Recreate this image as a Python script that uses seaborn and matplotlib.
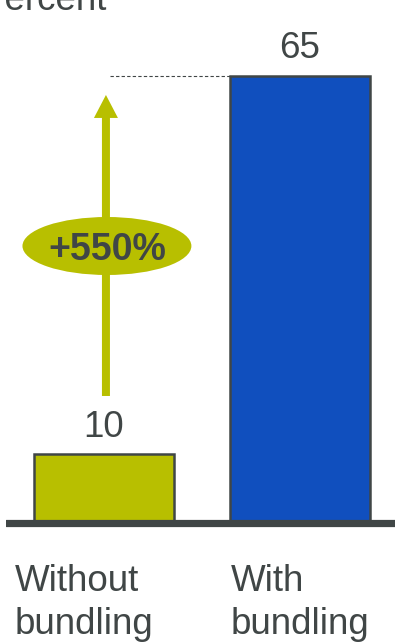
import matplotlib
matplotlib.use("Agg")
import matplotlib.pyplot as plt
import seaborn as sns
import pandas as pd
from matplotlib.patches import Ellipse, FancyArrow

categories = ["Without\nbundling", "With\nbundling"]
values = [10, 65]
change_label = "+550%"
unit_label = "Percent"

OLIVE = "#B8BF00"
BLUE = "#104FBE"
DARK = "#404646"

sns.set_theme(style="white")
plt.rcParams["font.family"] = ["Liberation Sans", "DejaVu Sans"]

df = pd.DataFrame({"cat": categories, "val": values})

fig = plt.figure(figsize=(3.95, 6.44), dpi=100)
ax = fig.add_axes([6 / 395, 0, 389 / 395, 1])

sns.barplot(data=df, x="cat", y="val", hue="cat", palette=[OLIVE, BLUE],
            saturation=1, width=0.714, edgecolor=DARK, linewidth=1.8,
            legend=False, ax=ax, zorder=2)

px_per_unit = 6.877
ax.set_ylim(-(644 - 523) / px_per_unit, 523 / px_per_unit)
ax.set_xlim(-0.5, 1.485)
ax.axhline(0, color=DARK, lw=5.2, zorder=3, xmin=0, xmax=1)

for c in ax.containers:
    ax.bar_label(c, padding=7, fontsize=26.5, color=DARK)

ax.set_axis_off()

# dashed reference line at top of second bar
ax.plot([0.03, 0.643], [values[1], values[1]], ls=(0, (3, 2)), lw=0.8,
        color=DARK, zorder=1)

# arrow
ax.add_patch(FancyArrow(0.01, 18.47, 0, 62.24 - 18.47, width=0.0408,
                        head_width=0.1224, head_length=3.34,
                        length_includes_head=True, color=OLIVE, lw=0, zorder=2))

# ellipse with change label
ax.add_patch(Ellipse((0.015, 40.28), 0.862, 8.43, color=OLIVE, lw=0, zorder=3))
ax.text(0.015, 40.28, change_label, ha="center", va="center_baseline",
        fontsize=27, fontweight="bold", color=DARK, zorder=4)

# category labels
for i, cat in enumerate(categories):
    x_px = [15, 231][i]
    fig.text(x_px / 395, 1 - 564 / 644, cat, ha="left", va="top",
             fontsize=26.5, color=DARK, linespacing=1.3)

fig.text(-20 / 395, 1 - 10 / 644, unit_label, ha="left", va="baseline",
         fontsize=26.5, color=DARK)

fig.savefig("out.png", dpi=100)
